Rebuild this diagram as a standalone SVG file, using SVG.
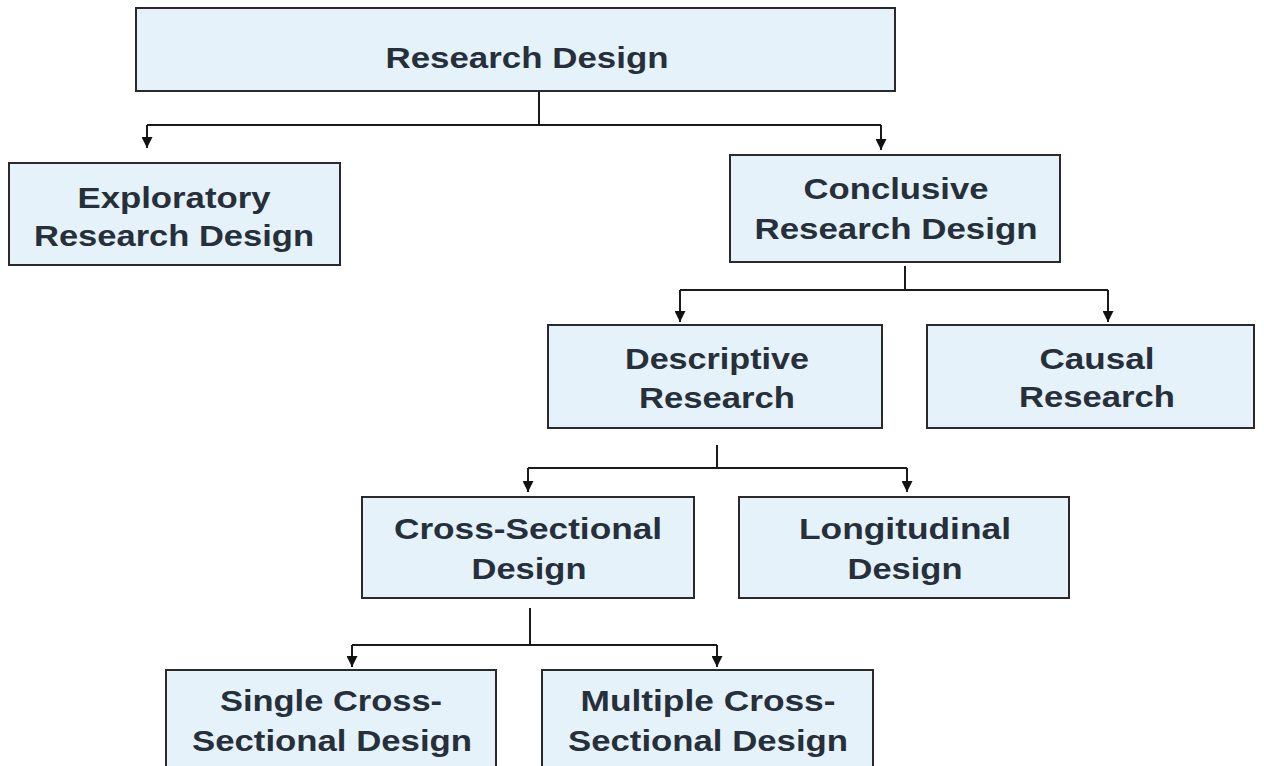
<svg xmlns="http://www.w3.org/2000/svg" width="1264" height="766" viewBox="0 0 1264 766">
<defs>
<style>
.box{fill:#e6f2f9;stroke:#2a2a2a;stroke-width:2}
.t{font-family:"Liberation Sans",Arial,sans-serif;font-weight:bold;font-size:30px;fill:#26303b;text-anchor:middle}
.c{fill:none;stroke:#1a1a1a;stroke-width:2}
</style>
<marker id="ah" viewBox="0 0 10 10" refX="10" refY="5" markerWidth="12" markerHeight="11" markerUnits="userSpaceOnUse" orient="auto">
<path d="M0,0 L10,5 L0,10 Z" fill="#111"/>
</marker>
</defs>
<rect width="1264" height="766" fill="#fff"/>
<g id="connectors">
<path class="c" d="M539,91 V125 M147,125 H881"/>
<path class="c" d="M147,125 V148" marker-end="url(#ah)"/>
<path class="c" d="M881,125 V150" marker-end="url(#ah)"/>
<path class="c" d="M905,266 V290 M680,290 H1108"/>
<path class="c" d="M680,290 V322" marker-end="url(#ah)"/>
<path class="c" d="M1108,290 V322" marker-end="url(#ah)"/>
<path class="c" d="M717,445 V468 M528,468 H907"/>
<path class="c" d="M528,468 V492" marker-end="url(#ah)"/>
<path class="c" d="M907,468 V492" marker-end="url(#ah)"/>
<path class="c" d="M530,608 V645 M352,645 H717"/>
<path class="c" d="M352,645 V667" marker-end="url(#ah)"/>
<path class="c" d="M717,645 V667" marker-end="url(#ah)"/>
</g>
<g id="research-design">
<rect class="box" x="136" y="8" width="759" height="83"/>
<text class="t" x="527" y="68" textLength="283" lengthAdjust="spacingAndGlyphs">Research Design</text>
</g>
<g id="exploratory">
<rect class="box" x="9" y="163" width="331" height="102"/>
<text class="t" x="174" y="208" textLength="193" lengthAdjust="spacingAndGlyphs">Exploratory</text>
<text class="t" x="174" y="246" textLength="280" lengthAdjust="spacingAndGlyphs">Research Design</text>
</g>
<g id="conclusive">
<rect class="box" x="730" y="155" width="330" height="107"/>
<text class="t" x="896" y="199" textLength="185" lengthAdjust="spacingAndGlyphs">Conclusive</text>
<text class="t" x="896" y="239" textLength="283" lengthAdjust="spacingAndGlyphs">Research Design</text>
</g>
<g id="descriptive">
<rect class="box" x="548" y="325" width="334" height="103"/>
<text class="t" x="717" y="369" textLength="184" lengthAdjust="spacingAndGlyphs">Descriptive</text>
<text class="t" x="717" y="408" textLength="156" lengthAdjust="spacingAndGlyphs">Research</text>
</g>
<g id="causal">
<rect class="box" x="927" y="325" width="327" height="103"/>
<text class="t" x="1097" y="369" textLength="115" lengthAdjust="spacingAndGlyphs">Causal</text>
<text class="t" x="1097" y="407" textLength="156" lengthAdjust="spacingAndGlyphs">Research</text>
</g>
<g id="cross-sectional">
<rect class="box" x="362" y="497" width="332" height="101"/>
<text class="t" x="528" y="539" textLength="268" lengthAdjust="spacingAndGlyphs">Cross-Sectional</text>
<text class="t" x="529" y="579" textLength="115" lengthAdjust="spacingAndGlyphs">Design</text>
</g>
<g id="longitudinal">
<rect class="box" x="739" y="497" width="330" height="101"/>
<text class="t" x="905" y="539" textLength="212" lengthAdjust="spacingAndGlyphs">Longitudinal</text>
<text class="t" x="905" y="579" textLength="115" lengthAdjust="spacingAndGlyphs">Design</text>
</g>
<g id="single">
<rect class="box" x="166" y="670" width="330" height="110"/>
<text class="t" x="331" y="711" textLength="222" lengthAdjust="spacingAndGlyphs">Single Cross-</text>
<text class="t" x="332" y="751" textLength="280" lengthAdjust="spacingAndGlyphs">Sectional Design</text>
</g>
<g id="multiple">
<rect class="box" x="542" y="670" width="331" height="110"/>
<text class="t" x="708" y="711" textLength="255" lengthAdjust="spacingAndGlyphs">Multiple Cross-</text>
<text class="t" x="708" y="751" textLength="280" lengthAdjust="spacingAndGlyphs">Sectional Design</text>
</g>
</svg>
